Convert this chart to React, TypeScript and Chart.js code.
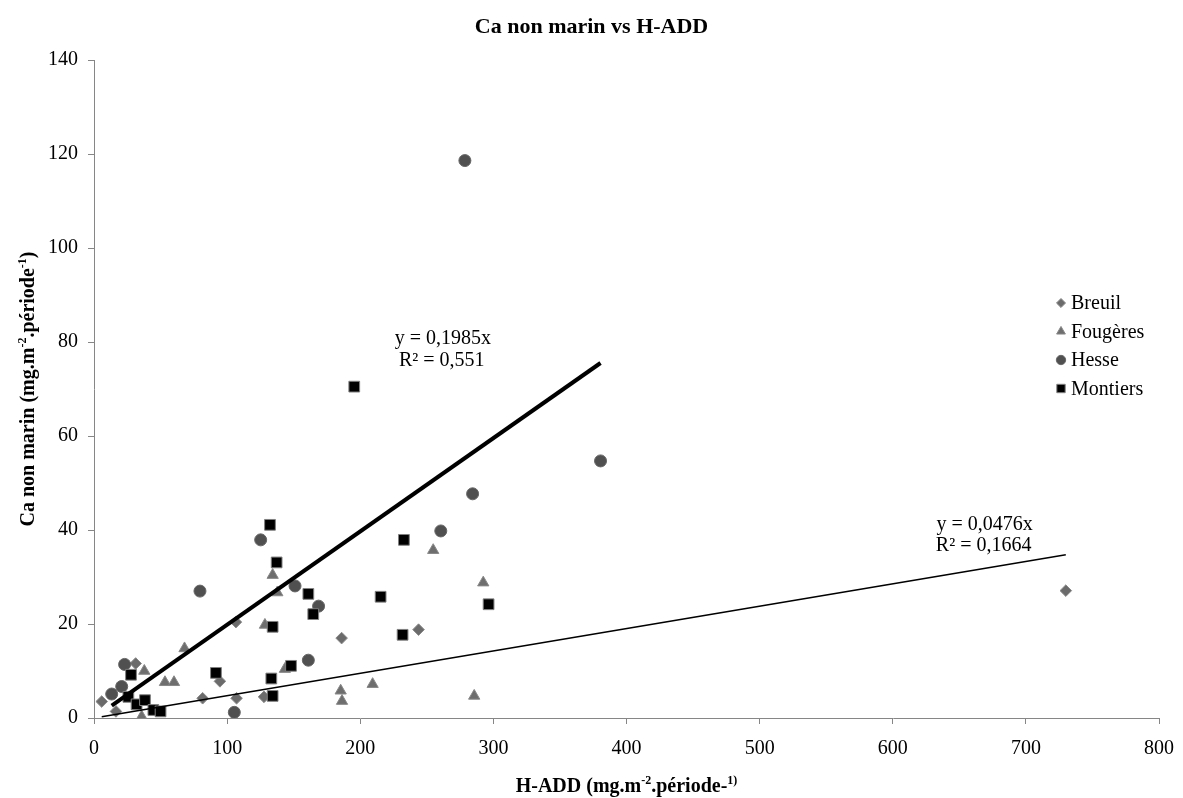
import React, { useEffect, useRef } from 'react';
import { Chart, registerables } from 'chart.js';
import { drawPoint } from 'chart.js/helpers';

Chart.register(...registerables);

// ---------- data ----------
const seriesNames = ['Breuil', 'Fougères', 'Hesse', 'Montiers'];

const breuilX = [5.8, 16.5, 31.3, 81.6, 94.6, 106.6, 107.1, 127.7, 186, 243.8, 730];
const breuilY = [3.5, 1.4, 11.6, 4.2, 7.8, 20.4, 4.2, 4.5, 17, 18.8, 27.1];

const fougeresX = [35.8, 37.8, 53.3, 60.1, 68, 128.4, 134.2, 137.7, 143.4, 185.3, 186.3, 209.3, 254.8, 285.6, 292.4];
const fougeresY = [0.3, 10, 7.6, 7.6, 14.8, 19.8, 30.4, 26.7, 10.4, 5.8, 3.6, 7.2, 35.7, 4.7, 28.8];

const hesseX = [13.3, 20.8, 23, 79.6, 105.4, 125.2, 151, 161, 168.7, 260.5, 278.6, 284.4, 380.5];
const hesseY = [5.1, 6.7, 11.4, 27, 1.2, 37.9, 28.1, 12.3, 23.8, 39.8, 118.6, 47.7, 54.7];

const montiersX = [25.8, 27.8, 32, 38.3, 44.6, 50, 91.6, 132.2, 133.2, 134.2, 134.2, 137.2, 148, 161, 164.7, 195.5, 215.3, 231.8, 232.8, 296.4];
const montiersY = [4.5, 9.2, 2.9, 3.8, 1.7, 1.4, 9.6, 41.1, 8.4, 19.4, 4.7, 33.1, 11.1, 26.4, 22.1, 70.5, 25.8, 17.7, 37.9, 24.2];

// trendlines (linear, intercept 0)
const hesseSlope = 0.1985;
const hesseR2 = '0,551';
const breuilSlope = 0.0476;
const breuilR2 = '0,1664';

const xTicks = [0, 100, 200, 300, 400, 500, 600, 700, 800];
const yTicks = [0, 20, 40, 60, 80, 100, 120, 140];

const FONT = '"Liberation Serif", "Times New Roman", serif';

const toPts = (xs: number[], ys: number[]) => xs.map((x, i) => ({ x, y: ys[i] }));
const trend = (xs: number[], slope: number) => {
  const mn = Math.min(...xs);
  const mx = Math.max(...xs);
  return [{ x: mn, y: slope * mn }, { x: mx, y: slope * mx }];
};

type Seg = [string, boolean];

function drawRich(ctx: CanvasRenderingContext2D, segs: Seg[], cx: number, cy: number, size: number, bold: boolean) {
  const fN = `${bold ? 'bold ' : ''}${size}px ${FONT}`;
  const fS = `${bold ? 'bold ' : ''}${Math.round(size * 0.62)}px ${FONT}`;
  let total = 0;
  const ws: number[] = [];
  segs.forEach(([t, sup]) => {
    ctx.font = sup ? fS : fN;
    const w = ctx.measureText(t).width;
    ws.push(w);
    total += w;
  });
  let x = cx - total / 2;
  const base = cy + size * 0.33;
  ctx.textAlign = 'left';
  ctx.textBaseline = 'alphabetic';
  segs.forEach(([t, sup], i) => {
    ctx.font = sup ? fS : fN;
    ctx.fillText(t, x, sup ? base - size * 0.38 : base);
    x += ws[i];
  });
}

const styles = [
  { pointStyle: 'rectRot', radius: 5.8, bg: '#6b6b6b', border: '#8a8a8a' },
  { pointStyle: 'triangle', radius: 6.5, bg: '#6e6e6e', border: '#888888' },
  { pointStyle: 'circle', radius: 6, bg: '#505050', border: '#666666' },
  { pointStyle: 'rect', radius: 7.6, bg: '#000000', border: '#808080' },
];

const overlay = {
  id: 'overlay',
  afterDraw(chart: any) {
    const ctx: CanvasRenderingContext2D = chart.ctx;
    const { chartArea } = chart;
    const xs = chart.scales.x;
    const ys = chart.scales.y;
    ctx.save();
    ctx.fillStyle = '#000';

    // Title
    ctx.font = `bold 22px ${FONT}`;
    ctx.textAlign = 'center';
    ctx.textBaseline = 'middle';
    ctx.fillText('Ca non marin vs H-ADD', chart.width / 2, 27);

    // X axis title
    drawRich(
      ctx,
      [['H-ADD (mg.m', false], ['-2', true], ['.période-', false], ['1)', true]],
      (chartArea.left + chartArea.right) / 2,
      785,
      20,
      true
    );

    // Y axis title
    ctx.save();
    ctx.translate(27, (chartArea.top + chartArea.bottom) / 2);
    ctx.rotate(-Math.PI / 2);
    drawRich(
      ctx,
      [['Ca non marin (mg.m', false], ['-2', true], ['.période', false], ['-1', true], [')', false]],
      0,
      0,
      20,
      true
    );
    ctx.restore();

    // Trendline equations
    ctx.font = `20px ${FONT}`;
    ctx.textAlign = 'center';
    ctx.textBaseline = 'middle';
    const e1x = xs.getPixelForValue(262);
    const e1y = ys.getPixelForValue(80.6);
    ctx.fillText('y = ' + String(hesseSlope).replace('.', ',') + 'x', e1x, e1y);
    ctx.fillText('R² = ' + hesseR2, e1x - 1, e1y + 22);
    const e2x = xs.getPixelForValue(669);
    const e2y = ys.getPixelForValue(41.1);
    ctx.fillText('y = ' + String(breuilSlope).replace('.', ',') + 'x', e2x, e2y);
    ctx.fillText('R² = ' + breuilR2, e2x - 1, e2y + 21);

    // Legend
    const lx = chartArea.right - 98;
    const ly = 303;
    seriesNames.forEach((name, i) => {
      const s = styles[i];
      const y = ly + i * 28.5;
      ctx.fillStyle = s.bg;
      ctx.strokeStyle = s.border;
      ctx.lineWidth = 1;
      drawPoint(ctx, { pointStyle: s.pointStyle, radius: s.radius * 0.78, borderWidth: 1 } as any, lx, y);
      ctx.fillStyle = '#000';
      ctx.font = `20px ${FONT}`;
      ctx.textAlign = 'left';
      ctx.textBaseline = 'middle';
      ctx.fillText(name, lx + 10, y + 1);
    });
    ctx.restore();
  },
};

export default function App() {
  const ref = useRef<HTMLCanvasElement | null>(null);

  useEffect(() => {
    if (!ref.current) return;
    const seriesData = [
      toPts(breuilX, breuilY),
      toPts(fougeresX, fougeresY),
      toPts(hesseX, hesseY),
      toPts(montiersX, montiersY),
    ];
    const datasets: any[] = seriesData.map((d, i) => ({
      label: seriesNames[i],
      data: d,
      pointStyle: styles[i].pointStyle,
      pointRadius: styles[i].radius,
      pointBackgroundColor: styles[i].bg,
      pointBorderColor: styles[i].border,
      pointBorderWidth: 1,
      showLine: false,
      order: 4 - i,
    }));
    datasets.push({
      label: 'trend Hesse',
      data: trend(hesseX, hesseSlope),
      showLine: true,
      borderColor: '#000',
      borderWidth: 4,
      pointRadius: 0,
      order: 0,
    });
    datasets.push({
      label: 'trend Breuil',
      data: trend(breuilX, breuilSlope),
      showLine: true,
      borderColor: '#000',
      borderWidth: 1.5,
      pointRadius: 0,
      order: 0,
    });

    const chart = new Chart(ref.current, {
      type: 'scatter',
      data: { datasets },
      options: {
        animation: false,
        responsive: false,
        devicePixelRatio: 1,
        layout: { padding: { top: 60, right: 24, left: 0, bottom: 0 } },
        plugins: {
          legend: { display: false },
          tooltip: { enabled: false },
          title: { display: false },
        },
        scales: {
          x: {
            type: 'linear',
            min: 0,
            max: 800,
            afterFit: (s: any) => { s.height = 80; s.paddingLeft = 0; s.paddingRight = 0; },
            afterBuildTicks: (s: any) => { s.ticks = xTicks.map((v) => ({ value: v })); },
            grid: { drawOnChartArea: false, drawTicks: true, tickLength: 6, color: '#868686' },
            border: { color: '#868686', width: 1 },
            ticks: { font: { family: FONT, size: 20 }, color: '#000', padding: 13, maxRotation: 0 },
          },
          y: {
            type: 'linear',
            min: 0,
            max: 140,
            afterFit: (s: any) => { s.width = 94; s.paddingTop = 0; s.paddingBottom = 0; },
            afterBuildTicks: (s: any) => { s.ticks = yTicks.map((v) => ({ value: v })); },
            grid: { drawOnChartArea: false, drawTicks: true, tickLength: 6, color: '#868686' },
            border: { color: '#868686', width: 1 },
            ticks: { font: { family: FONT, size: 20 }, color: '#000', padding: 10 },
          },
        },
      },
      plugins: [overlay],
    });
    return () => chart.destroy();
  }, []);

  return (
    <div style={{ position: 'absolute', left: 0, top: 0, width: 1183, height: 798, background: '#fff' }}>
      <canvas ref={ref} width={1183} height={798} style={{ width: 1183, height: 798 }} />
    </div>
  );
}
